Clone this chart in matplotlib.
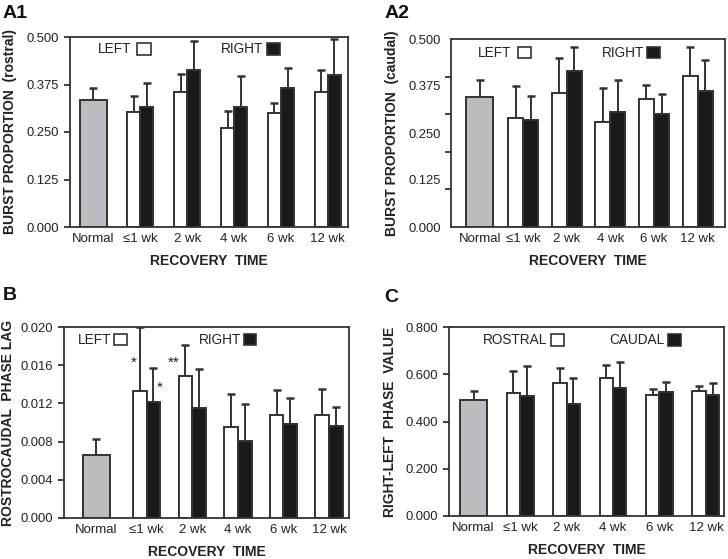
import numpy as np
import matplotlib
matplotlib.use("Agg")
import matplotlib.pyplot as plt
from matplotlib.patches import Rectangle

plt.rcParams['font.family'] = ['Liberation Sans', 'DejaVu Sans']

categories = ["Normal", "≤1 wk", "2 wk", "4 wk", "6 wk", "12 wk"]

# A1: burst proportion (rostral)
a1_normal, a1_normal_top = 0.333, 0.365
a1_left = [0.303, 0.354, 0.260, 0.299, 0.354]
a1_left_top = [0.345, 0.402, 0.304, 0.327, 0.413]
a1_right = [0.316, 0.413, 0.316, 0.365, 0.399]
a1_right_top = [0.378, 0.490, 0.397, 0.419, 0.496]

# A2: burst proportion (caudal)
a2_normal, a2_normal_top = 0.345, 0.392
a2_left = [0.291, 0.356, 0.278, 0.340, 0.402]
a2_left_top = [0.376, 0.450, 0.371, 0.377, 0.478]
a2_right = [0.284, 0.416, 0.307, 0.301, 0.361]
a2_right_top = [0.349, 0.480, 0.390, 0.353, 0.444]

# B: rostrocaudal phase lag
b_normal, b_normal_top = 0.00663, 0.00827
b_left = [0.01333, 0.01487, 0.00953, 0.01079, 0.01079]
b_left_top = [0.0200, 0.01815, 0.01295, 0.01337, 0.01347]
b_right = [0.01211, 0.01148, 0.00803, 0.00981, 0.00960]
b_right_top = [0.01574, 0.01560, 0.01197, 0.01260, 0.01162]

# C: right-left phase value
c_normal, c_normal_top = 0.493, 0.528
c_left = [0.521, 0.565, 0.585, 0.513, 0.527]
c_left_top = [0.614, 0.628, 0.641, 0.539, 0.549]
c_right = [0.506, 0.472, 0.542, 0.523, 0.514]
c_right_top = [0.637, 0.586, 0.651, 0.568, 0.562]

W, H = 728, 559
fig = plt.figure(figsize=(W / 100, H / 100), dpi=100)

EDGE = '#333333'
GRAY = '#bbbcbf'
BLACK = '#1a1a1a'
TXT = '#222222'


def add_ax(l, r, t, b):
    return fig.add_axes([l / W, 1 - b / H, (r - l) / W, (b - t) / H])


def panel(ax, box, normal, normal_top, left, left_top, right, right_top,
          normal_pos, wn, wp, xlim, ylim, yticks, ylabels, ylabel, ylabel_px,
          leg_names, leg_pos, minor=None):
    x = np.arange(1, 6)
    bk = dict(edgecolor=EDGE, linewidth=1.4, zorder=2)
    ax.bar([normal_pos], [normal], width=wn, color=GRAY, **bk)
    ax.bar(x - wp / 2, left, width=wp, color='white', **bk)
    ax.bar(x + wp / 2, right, width=wp, color=BLACK, **bk)
    ek = dict(fmt='none', ecolor=EDGE, elinewidth=1.4, capsize=2.6,
              capthick=1.8, zorder=1)
    ax.errorbar([normal_pos], [normal], yerr=[[0], [normal_top - normal]], **ek)
    ax.errorbar(x - wp / 2, left,
                yerr=[np.zeros(5), np.array(left_top) - np.array(left)], **ek)
    ax.errorbar(x + wp / 2, right,
                yerr=[np.zeros(5), np.array(right_top) - np.array(right)], **ek)
    ax.set_xlim(*xlim)
    ax.set_ylim(*ylim)
    ax.set_xticks([normal_pos] + list(x))
    ax.set_xticklabels(categories, fontsize=9.5, color=TXT)
    ax.tick_params(axis='x', length=0, pad=4)
    ax.set_yticks(yticks)
    ax.set_yticklabels(ylabels, fontsize=9.4, color=TXT)
    if minor is not None:
        ax.set_yticks(minor, minor=True)
        ax.tick_params(axis='y', which='major', length=0, pad=7)
        ax.tick_params(axis='y', which='minor', length=4.5, width=1.3,
                       color=EDGE, direction='out')
    else:
        ax.tick_params(axis='y', length=4.5, width=1.3, color=EDGE,
                       direction='out', pad=3.5)
    for s in ax.spines.values():
        s.set_color(EDGE)
        s.set_linewidth(1.3)
    ax.set_ylabel(ylabel, fontsize=10, fontweight='bold', color=TXT)
    ax.yaxis.label.set_va('center')
    l, r = box[0], box[1]
    ax.yaxis.set_label_coords((ylabel_px - l) / (r - l), 0.5)
    ax.set_xlabel("RECOVERY  TIME", fontsize=10, fontweight='bold',
                  color=TXT, labelpad=7)
    # legend as text + squares
    (t1end, s1x, t2end, s2x, sy0, sy1, sw) = leg_pos
    yc = (sy0 + sy1) / 2
    for name, tend, sx, fc in [(leg_names[0], t1end, s1x, 'white'),
                               (leg_names[1], t2end, s2x, BLACK)]:
        ax.text(tend, yc, name, transform=ax.transAxes, ha='right',
                va='center', fontsize=9.8, color=TXT)
        ax.add_patch(Rectangle((sx, sy0), sw, sy1 - sy0, transform=ax.transAxes,
                               facecolor=fc, edgecolor=EDGE, linewidth=1.2,
                               clip_on=False, zorder=5))


yt = np.arange(0, 0.501, 0.125)

# A1
box1 = (70, 348, 37, 227)
ax1 = add_ax(*box1)
panel(ax1, box1, a1_normal, a1_normal_top, a1_left, a1_left_top, a1_right,
      a1_right_top, 0, 0.57, 0.28, (-0.5, 5.43), (0, 0.5), yt,
      ["%.3f" % v for v in yt], "BURST PROPORTION  (rostral)", 10,
      ("LEFT", "RIGHT"), (0.222, 0.242, 0.695, 0.707, 0.907, 0.969, 0.048))

# A2
box2 = (451, 725, 39, 227)
ax2 = add_ax(*box2)
panel(ax2, box2, a2_normal, a2_normal_top, a2_left, a2_left_top, a2_right,
      a2_right_top, 0, 0.62, 0.345, (-0.66, 5.63), (0, 0.5), yt,
      ["%.3f" % v for v in yt], "BURST PROPORTION  (caudal)", 392,
      ("LEFT", "RIGHT"), (0.222, 0.243, 0.704, 0.716, 0.899, 0.956, 0.048),
      minor=np.arange(0, 0.501, 0.1))

# B
box3 = (64, 349, 327, 518)
ax3 = add_ax(*box3)
ytb = np.arange(0, 0.0201, 0.004)
panel(ax3, box3, b_normal, b_normal_top, b_left, b_left_top, b_right,
      b_right_top, -0.1, 0.6, 0.3, (-0.81, 5.436), (0, 0.020), ytb,
      ["%.3f" % v for v in ytb], "ROSTROCAUDAL  PHASE LAG", 8,
      ("LEFT", "RIGHT"), (0.165, 0.177, 0.623, 0.632, 0.904, 0.965, 0.043))
ax3.text(0.716, 0.0163, "*", ha='center', va='center', fontsize=11, color=TXT)
ax3.text(1.28, 0.0136, "*", ha='center', va='center', fontsize=11, color=TXT)
ax3.text(1.6, 0.0163, "**", ha='center', va='center', fontsize=11, color=TXT)

# C
box4 = (449, 724, 327, 516)
ax4 = add_ax(*box4)
ytc = np.arange(0, 0.801, 0.2)
panel(ax4, box4, c_normal, c_normal_top, c_left, c_left_top, c_right,
      c_right_top, 0, 0.59, 0.29, (-0.53, 5.39), (0, 0.8), ytc,
      ["%.3f" % v for v in ytc], "RIGHT-LEFT  PHASE  VALUE", 390,
      ("ROSTRAL", "CAUDAL"), (0.356, 0.372, 0.784, 0.797, 0.898, 0.961, 0.047))

# panel labels
for lab, px, py in [("A1", 3, 14), ("A2", 385, 14), ("B", 3, 296), ("C", 384, 297)]:
    fig.text(px / W, 1 - py / H, lab, fontsize=14, fontweight='bold',
             va='center', ha='left', color='#111111')

fig.savefig("out.png", dpi=100)
